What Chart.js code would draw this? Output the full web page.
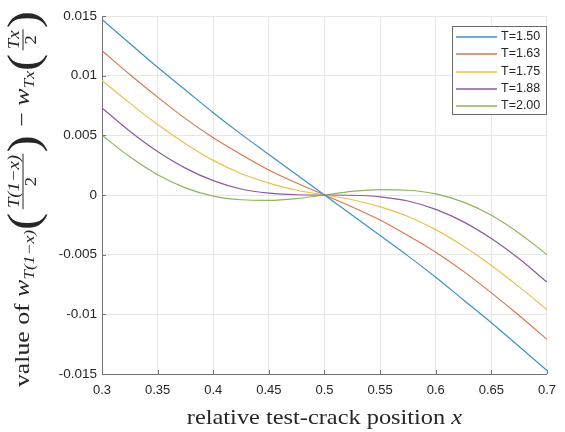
<!DOCTYPE html>
<html>
<head>
<meta charset="utf-8">
<script src="https://cdn.jsdelivr.net/npm/chart.js@4/dist/chart.umd.min.js"></script>
<style>
  html, body { margin: 0; padding: 0; background: #fff; }
  #wrap { width: 565px; height: 432px; }
</style>
</head>
<body>
<div id="wrap"><canvas id="crackChart" width="565" height="432"></canvas></div>
<script>
// relative test-crack position x
const xValues = [0.3, 0.325, 0.35, 0.375, 0.4, 0.425, 0.45, 0.475, 0.5,
                 0.525, 0.55, 0.575, 0.6, 0.625, 0.65, 0.675, 0.7];

// one curve per T
const seriesLabels = ["T=1.50", "T=1.63", "T=1.75", "T=1.88", "T=2.00"];
const t150 = [0.0147, 0.0127, 0.0107, 0.0088, 0.0069, 0.0051, 0.0034, 0.0017, 0,
              -0.0017, -0.0034, -0.0051, -0.0069, -0.0088, -0.0107, -0.0127, -0.0147];
const t163 = [0.0121, 0.0101, 0.0082, 0.0064, 0.0048, 0.0034, 0.0021, 0.0010, 0,
              -0.0010, -0.0021, -0.0034, -0.0048, -0.0064, -0.0082, -0.0101, -0.0121];
const t175 = [0.0096, 0.0077, 0.0059, 0.0043, 0.0029, 0.0018, 0.0010, 0.0004, 0,
              -0.0004, -0.0010, -0.0018, -0.0029, -0.0043, -0.0059, -0.0077, -0.0096];
const t188 = [0.0073, 0.00535, 0.00365, 0.00225, 0.0012, 0.0005, 0.00015, 0.00002, 0,
              -0.00002, -0.00015, -0.0005, -0.0012, -0.00225, -0.00365, -0.00535, -0.0073];
const t200 = [0.0050, 0.0032, 0.0017, 0.0006, -0.0001, -0.0004, -0.00045, -0.0003, 0,
              0.0003, 0.00045, 0.0004, 0.0001, -0.0006, -0.0017, -0.0032, -0.0050];

// tick labels
const xTickLabels = ["0.3", "0.35", "0.4", "0.45", "0.5", "0.55", "0.6", "0.65", "0.7"];
const yTickLabels = ["-0.015", "-0.01", "-0.005", "0", "0.005", "0.01", "0.015"];

const lineColors = ["#3a92c9", "#d9774f", "#e8c14d", "#8c5a9d", "#8db55a"];
const axisColor = "#737373";
const gridColor = "#e6e6e6";
const textColor = "#262626";

const allSeries = [t150, t163, t175, t188, t200];
const datasets = allSeries.map((vals, i) => ({
  label: seriesLabels[i],
  data: vals.map((v, j) => ({ x: xValues[j], y: v })),
  borderColor: lineColors[i],
  borderWidth: 1.2,
  pointRadius: 0,
  cubicInterpolationMode: "monotone",
  fill: false
}));

// inward tick marks on left and bottom axes
const innerTicks = {
  id: "innerTicks",
  afterDatasetsDraw(chart) {
    const { ctx, chartArea: a, scales: { x, y } } = chart;
    ctx.save();
    ctx.strokeStyle = axisColor;
    ctx.lineWidth = 1;
    ctx.beginPath();
    x.ticks.forEach(t => {
      const px = Math.round(x.getPixelForValue(t.value)) + 0.5;
      ctx.moveTo(px, a.bottom);
      ctx.lineTo(px, a.bottom - 4);
    });
    y.ticks.forEach(t => {
      const py = Math.round(y.getPixelForValue(t.value)) + 0.5;
      ctx.moveTo(a.left, py);
      ctx.lineTo(a.left + 4, py);
    });
    ctx.stroke();
    ctx.restore();
  }
};

// legend box in the upper right corner
const boxLegend = {
  id: "boxLegend",
  afterDraw(chart) {
    const ctx = chart.ctx;
    const bx = 452, by = 26, bw = 94, bh = 88;
    ctx.save();
    ctx.fillStyle = "#fff";
    ctx.fillRect(bx, by, bw, bh);
    ctx.strokeStyle = "#6a6a6a";
    ctx.lineWidth = 1;
    ctx.strokeRect(bx + 0.5, by + 0.5, bw, bh);
    ctx.font = "12.5px 'Liberation Sans', Arial, sans-serif";
    ctx.textBaseline = "middle";
    ctx.fillStyle = textColor;
    seriesLabels.forEach((lab, i) => {
      const ry = Math.round(37 + i * 17.35);
      ctx.strokeStyle = lineColors[i];
      ctx.lineWidth = 1.4;
      ctx.beginPath();
      ctx.moveTo(456, ry);
      ctx.lineTo(497, ry);
      ctx.stroke();
      ctx.fillText(lab, 501, ry);
    });
    ctx.restore();
  }
};

// LaTeX-like axis titles
const SERIF = "'Liberation Serif', 'Times New Roman', serif";
const mathTitles = {
  id: "mathTitles",
  afterDraw(chart) {
    const ctx = chart.ctx;
    const a = chart.chartArea;
    ctx.save();
    ctx.fillStyle = textColor;
    ctx.textBaseline = "alphabetic";

    // x title, slightly wide like the reference
    const xMain = "relative test-crack position ";
    ctx.font = "21px " + SERIF;
    const w1 = ctx.measureText(xMain).width;
    ctx.font = "italic 21px " + SERIF;
    const w2 = ctx.measureText("x").width;
    const xc = (a.left + a.right) / 2;
    ctx.save();
    ctx.translate(xc, 424);
    ctx.scale(1.16, 1);
    const sx = -(w1 + w2) / 2;
    ctx.font = "21px " + SERIF;
    ctx.fillText(xMain, sx, 0);
    ctx.font = "italic 21px " + SERIF;
    ctx.fillText("x", sx + w1, 0);
    ctx.restore();

    // y title: value of w_{T(1-x)}(T(1-x)/2) - w_{Tx}(Tx/2)
    const parts = [
      { t: "value of ", f: "22px " + SERIF, dy: 0 },
      { t: "w", f: "italic 22px " + SERIF, dy: 0 },
      { t: "T(1\u2212x)", f: "italic 15px " + SERIF, dy: 5 },
      { t: "(", f: "44px " + SERIF, dy: 9, gap: 2 },
      { frac: ["T(1\u2212x)", "2"] },
      { t: ")", f: "44px " + SERIF, dy: 9, gap: 2 },
      { t: " \u2212 ", f: "22px " + SERIF, dy: 0 },
      { t: "w", f: "italic 22px " + SERIF, dy: 0 },
      { t: "Tx", f: "italic 15px " + SERIF, dy: 5 },
      { t: "(", f: "44px " + SERIF, dy: 9, gap: 2 },
      { frac: ["Tx", "2"] },
      { t: ")", f: "44px " + SERIF, dy: 9 }
    ];
    const fracFont = "italic 16px " + SERIF;
    const denFont = "16px " + SERIF;
    parts.forEach(p => {
      if (p.frac) {
        ctx.font = fracFont;
        const wn = ctx.measureText(p.frac[0]).width;
        ctx.font = denFont;
        const wd = ctx.measureText(p.frac[1]).width;
        p.w = Math.max(wn, wd) + 4;
        p.wn = wn; p.wd = wd;
      } else {
        ctx.font = p.f;
        p.w = ctx.measureText(p.t).width + (p.gap || 0);
      }
    });
    const total = parts.reduce((s, p) => s + p.w, 0);
    const cy = 199, baseX = 29;
    ctx.translate(baseX, cy);
    ctx.rotate(-Math.PI / 2);
    ctx.scale(1.17, 1);
    let cx = -total / 2;
    parts.forEach(p => {
      if (p.frac) {
        const axisY = -6;
        ctx.font = fracFont;
        ctx.fillText(p.frac[0], cx + (p.w - p.wn) / 2, axisY - 4);
        ctx.font = denFont;
        ctx.fillText(p.frac[1], cx + (p.w - p.wd) / 2, axisY + 13);
        ctx.strokeStyle = textColor;
        ctx.lineWidth = 1;
        ctx.beginPath();
        ctx.moveTo(cx + 1, axisY);
        ctx.lineTo(cx + p.w - 1, axisY);
        ctx.stroke();
      } else {
        ctx.font = p.f;
        ctx.fillText(p.t, cx, p.dy);
      }
      cx += p.w;
    });
    ctx.restore();
  }
};

const ctx = document.getElementById("crackChart").getContext("2d");
const crackChart = new Chart(ctx, {
  type: "line",
  data: { datasets: datasets },
  plugins: [innerTicks, boxLegend, mathTitles],
  options: {
    responsive: false,
    animation: false,
    layout: { padding: { top: 16, right: 9, left: 0, bottom: 0 } },
    plugins: {
      legend: { display: false },
      tooltip: { enabled: false }
    },
    scales: {
      x: {
        type: "linear",
        min: 0.3,
        max: 0.7,
        afterFit: s => { s.height = 58; },
        afterBuildTicks: s => {
          s.ticks = xTickLabels.map(l => ({ value: parseFloat(l) }));
        },
        ticks: {
          padding: 9,
          maxRotation: 0,
          color: textColor,
          font: { family: "'Liberation Sans', Arial, sans-serif", size: 13 },
          callback: (v, i) => xTickLabels[i]
        },
        grid: { color: gridColor, drawTicks: false },
        border: { color: axisColor, width: 1 }
      },
      y: {
        min: -0.015,
        max: 0.015,
        afterFit: s => { s.width = 102; },
        afterBuildTicks: s => {
          s.ticks = yTickLabels.map(l => ({ value: parseFloat(l) }));
        },
        ticks: {
          padding: 5,
          color: textColor,
          font: { family: "'Liberation Sans', Arial, sans-serif", size: 13.5 },
          callback: (v, i) => yTickLabels[i]
        },
        grid: { color: gridColor, drawTicks: false },
        border: { color: axisColor, width: 1 }
      }
    }
  }
});
</script>
</body>
</html>
